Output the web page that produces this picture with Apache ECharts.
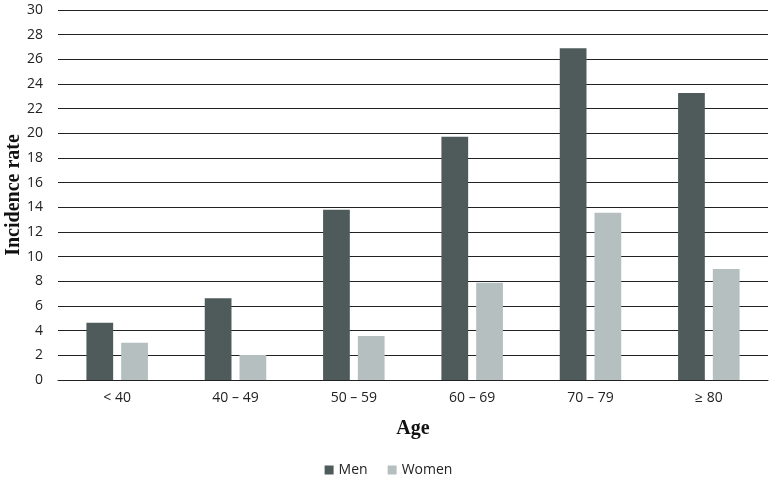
<!DOCTYPE html>
<html><head><meta charset="utf-8">
<script src="https://cdn.jsdelivr.net/npm/echarts@6/dist/echarts.min.js"></script>
<style>html,body{margin:0;padding:0;background:#fff}#c{width:777px;height:484px}</style>
</head><body><div id="c"></div>
<script>
var categories = ['< 40', '40 – 49', '50 – 59', '60 – 69', '70 – 79', '≥ 80'];
var men = [4.65, 6.62, 13.8, 19.73, 26.9, 23.27];
var women = [3.03, 2.03, 3.57, 7.89, 13.57, 9.0];
var seriesNames = ['Men', 'Women'];

var chart = echarts.init(document.getElementById('c'));
chart.setOption({
  animation: false,
  backgroundColor: '#fff',
  grid: {left: 58, right: 9, top: 10, bottom: 104, containLabel: false, outerBoundsMode: 'none'},
  legend: {
    bottom: 2, left: 'center', itemWidth: 9, itemHeight: 9, itemGap: 20,
    icon: 'rect',
    textStyle: {fontFamily: 'Open Sans', fontSize: 14, color: '#222'},
    data: seriesNames
  },
  xAxis: {
    type: 'category', data: categories,
    name: 'Age', nameLocation: 'middle', nameGap: 39, nameMoveOverlap: false,
    nameTextStyle: {fontFamily: 'Liberation Serif', fontWeight: 'bold', fontSize: 20, color: '#111'},
    axisLine: {lineStyle: {color: '#222', width: 1}},
    axisTick: {show: false},
    axisLabel: {fontFamily: 'Open Sans', fontSize: 14, color: '#222', margin: 11}
  },
  yAxis: {
    type: 'value', min: 0, max: 30, interval: 2,
    name: 'Incidence rate', nameLocation: 'middle', nameGap: 34, nameMoveOverlap: false,
    nameTextStyle: {fontFamily: 'Liberation Serif', fontWeight: 'bold', fontSize: 20, color: '#111'},
    axisLine: {show: false}, axisTick: {show: false},
    axisLabel: {fontFamily: 'Open Sans', fontSize: 14, color: '#222', margin: 15},
    splitLine: {lineStyle: {color: '#222', width: 1}}
  },
  series: [
    {name: seriesNames[0], type: 'bar', data: men, barWidth: '22.6%', barGap: '30%', itemStyle: {color: '#4f5b5b'}},
    {name: seriesNames[1], type: 'bar', data: women, barWidth: '22.6%', barGap: '30%', itemStyle: {color: '#b5bfbf'}}
  ]
});
</script></body></html>
